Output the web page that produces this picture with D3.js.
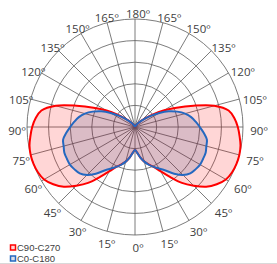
<!DOCTYPE html>
<html>
<head>
<meta charset="utf-8">
<script src="https://cdn.jsdelivr.net/npm/d3@7"></script>
<style>
  body { margin: 0; background: #fff; }
  svg text { font-family: "Open Sans", "Liberation Sans", sans-serif; fill: #404040; }
</style>
</head>
<body>
<div id="chart"></div>
<script>
// polar light distribution (outer ring = 250)
var angleDeg = [0,5,10,15,20,25,30,35,40,45,50,55,60,65,70,75,80,85,90,
                95,100,105,110,115,120,125,130,135,140,145,150,155,160,165,170,175,180];
var c90c270 = [53,60,72,83,92,102,118,141,169,192,215,231,243,248,250,250,248,243,238,
               231,220,190,144,106,76,51,32,21,12,7,5,2,0,0,0,0,0];
var c0c180 = [53,60,72,83,93,102,111,123,141,157,167,171,174,174,174,171,169,160,150,
              141,132,120,104,86,65,46,30,19,12,7,2,0,0,0,0,0,0];
var tickAngles = [0,15,30,45,60,75,90,105,120,135,150,165,180];
var ringValues = [50,100,150,200,250];
var seriesNames = ["C90-C270","C0-C180"];
var seriesColors = ["#ff0000","#2468c0"];
var seriesFills = ["rgba(255,0,0,0.16)","rgba(40,60,120,0.17)"];

var width = 277, height = 264;
var cx = 135, cy = 127, R = 108;

var svg = d3.select("#chart").append("svg")
    .attr("width", width).attr("height", height);

var rScale = d3.scaleLinear().domain([0, 250]).range([0, R]);
// 0 deg points down, 180 deg points up (right half)
var aScale = d3.scaleLinear().domain([0, 180]).range([Math.PI, 0]);

var g = svg.append("g").attr("transform", "translate(" + cx + "," + cy + ")");

// grid rings
g.selectAll("circle.ring").data(ringValues).enter().append("circle")
    .attr("class", "ring")
    .attr("r", function(d){ return rScale(d); })
    .attr("fill", "none").attr("stroke", "#5a5a5a").attr("stroke-width", 0.8);

// spokes on both halves
var spokes = [];
tickAngles.forEach(function(t){
    spokes.push(aScale(t));
    if (t > 0 && t < 180) spokes.push(2 * Math.PI - aScale(t));
});
g.selectAll("line.spoke").data(spokes).enter().append("line")
    .attr("x1", 0).attr("y1", 0)
    .attr("x2", function(a){ return Math.sin(a) * R; })
    .attr("y2", function(a){ return -Math.cos(a) * R; })
    .attr("stroke", "#5a5a5a").attr("stroke-width", 0.8);

// closed curve: right half top->bottom, then left half bottom->top
function toPoints(vals){
    var pts = [];
    for (var i = angleDeg.length - 1; i >= 0; i--) pts.push([aScale(angleDeg[i]), rScale(vals[i])]);
    for (var j = 1; j < angleDeg.length - 1; j++) pts.push([2 * Math.PI - aScale(angleDeg[j]), rScale(vals[j])]);
    return pts;
}

var radial = d3.lineRadial()
    .angle(function(d){ return d[0]; })
    .radius(function(d){ return d[1]; })
    .curve(d3.curveCatmullRomClosed);

var series = [c90c270, c0c180];
series.forEach(function(vals, k){
    g.append("path").attr("d", radial(toPoints(vals)))
        .attr("fill", seriesFills[k]).attr("stroke", "none");
});
series.forEach(function(vals, k){
    g.append("path").attr("d", radial(toPoints(vals)))
        .attr("fill", "none").attr("stroke", seriesColors[k])
        .attr("stroke-width", 2).attr("stroke-linejoin", "round");
});

// angle labels
var labels = [];
tickAngles.forEach(function(t){
    labels.push({t: t, a: aScale(t)});
    if (t > 0 && t < 180) labels.push({t: t, a: 2 * Math.PI - aScale(t)});
});
g.selectAll("text.tick").data(labels).enter().append("text")
    .attr("class", "tick")
    .attr("x", function(d){ return Math.sin(d.a) * 121 + 3; })
    .attr("y", function(d){ return -Math.cos(d.a) * 117 + 3; })
    .attr("text-anchor", "middle")
    .attr("dominant-baseline", "central")
    .style("font-size", "11.5px")
    .text(function(d){ return d.t + "º"; });

// legend
var legend = svg.append("g").attr("transform", "translate(10,244)");
seriesNames.forEach(function(name, k){
    var row = legend.append("g").attr("transform", "translate(0," + (k * 11) + ")");
    row.append("rect").attr("x", 0.5).attr("y", 1).attr("width", 5).attr("height", 5)
        .attr("fill", seriesFills[k]).attr("stroke", seriesColors[k]).attr("stroke-width", 1.5);
    row.append("text").attr("x", 7).attr("y", 3.5)
        .attr("dominant-baseline", "central")
        .style("font-family", "'Liberation Sans', sans-serif")
        .style("font-size", "9.5px").text(name);
});

svg.append("line").attr("x1", 0).attr("x2", width).attr("y1", 263.5).attr("y2", 263.5)
    .attr("stroke", "#d9d9d9").attr("stroke-width", 1);
</script>
</body>
</html>
